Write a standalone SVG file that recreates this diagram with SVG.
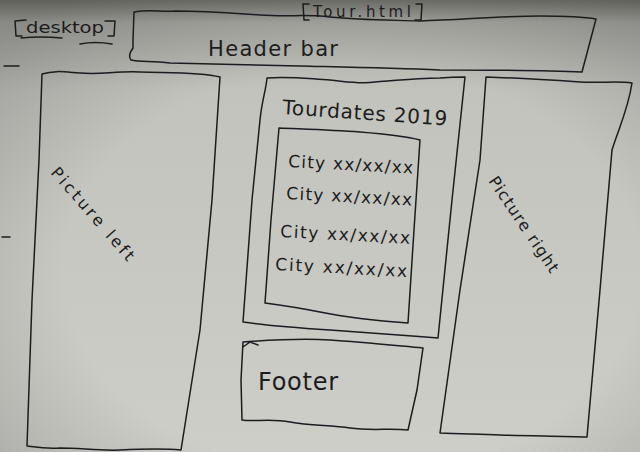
<svg xmlns="http://www.w3.org/2000/svg" width="640" height="452" viewBox="0 0 640 452">
<defs>
<linearGradient id="paper" x1="0" y1="0" x2="0" y2="1">
<stop offset="0" stop-color="#74756e"/>
<stop offset="0.05" stop-color="#a8a9a3"/>
<stop offset="0.2" stop-color="#c2c3bd"/>
<stop offset="1" stop-color="#cdcec8"/>
</linearGradient>
<radialGradient id="vig" cx="0.55" cy="0.6" r="0.75">
<stop offset="0.6" stop-color="#000" stop-opacity="0"/>
<stop offset="1" stop-color="#000" stop-opacity="0.18"/>
</radialGradient>
<style>
.ln{fill:none;stroke:#1c1c1c;stroke-width:1.5;stroke-linejoin:round;stroke-linecap:round}
.tx{font-family:"DejaVu Sans","Liberation Sans",sans-serif;fill:#1c1c1c;font-weight:normal}
</style>
</defs>
<rect width="640" height="452" fill="url(#paper)"/>
<rect width="640" height="452" fill="url(#vig)"/>
<path class="ln" d="M4,66 L19,66 M2,237 L10,237"/>

<g id="desktop">
<path class="ln" d="M15,21 L26,20 M15,21 L16,36 L22,36 M105,21 L115,21 L114,36 L108,36"/>
<text class="tx" x="26" y="33" font-size="16" textLength="78" lengthAdjust="spacingAndGlyphs">desktop</text>
<path class="ln" d="M21,38 Q40,36 62,38 M80,44 Q95,41 112,44"/>
</g>

<g id="tour-html">
<path class="ln" d="M309,4 L303,4 L304,20 L309,20 M416,4 L422,4 L421,20 L415,20"/>
<text class="tx" x="313" y="17" font-size="15" textLength="98" lengthAdjust="spacing">Tour.html</text>
</g>

<g id="header-bar">
<path class="ln" d="M134,12 C150,9 160,12 175,11 C205,11 230,13 260,15 C290,17 305,14 330,17 C360,20 390,20 420,21 C460,20 500,16 540,16 C570,16 585,17 596,19 L582,72 C540,70 490,70 440,70 C390,68 340,67 300,66 C250,65 200,64 170,63 C150,61 140,62 131,60 C128,56 130,52 133,48 L133,40 Z"/>
<text class="tx" x="208" y="56" font-size="21" textLength="130" lengthAdjust="spacing">Header bar</text>
</g>

<g id="picture-left">
<path class="ln" d="M42,74 C55,70 65,72 80,73 C100,75 115,71 140,72 C170,73 200,72 220,77 L212,200 L200,330 L181,450 C160,448 140,449 120,450 C100,451 80,448 60,448 C45,449 35,447 27,446 L32,300 L39,160 Z"/>
<text class="tx" transform="translate(50,173) rotate(49)" font-size="16" textLength="118" lengthAdjust="spacing">Picture left</text>
</g>

<g id="tourdates">
<path class="ln" d="M267,78 C290,76 310,79 330,80 C350,82 360,84 375,82 C400,80 420,78 440,78 C452,77 460,77 465,77 L452,200 L438,338 C400,335 360,332 330,330 C300,328 270,326 243,322 L252,200 L260,120 C262,100 266,90 267,78 Z"/>
<text class="tx" transform="translate(282,114) rotate(4)" font-size="20" textLength="165" lengthAdjust="spacing">Tourdates 2019</text>
<path class="ln" d="M279,128 C300,129 330,130 360,132 C385,134 405,136 420,140 L414,230 L408,323 C380,321 350,318 320,312 C300,308 280,305 265,303 L271,220 Z"/>
<text class="tx" x="288" y="167" font-size="17" textLength="125" lengthAdjust="spacing" transform="rotate(3 288 167)">City xx/xx/xx</text>
<text class="tx" x="286" y="199" font-size="17" textLength="126" lengthAdjust="spacing" transform="rotate(3 286 199)">City xx/xx/xx</text>
<text class="tx" x="280" y="237" font-size="17" textLength="130" lengthAdjust="spacing" transform="rotate(3 280 237)">City xx/xx/xx</text>
<text class="tx" x="275" y="270" font-size="17" textLength="132" lengthAdjust="spacing" transform="rotate(3 275 270)">City xx/xx/xx</text>
</g>

<g id="footer">
<path class="ln" d="M243,342 C270,340 300,338 330,340 C360,342 390,345 423,348 L417,390 L408,430 C390,428 370,431 350,428 C330,425 310,426 290,422 C270,418 255,422 242,420 L241,380 Z M243,347 L250,342 L258,345"/>
<text class="tx" x="258" y="390" font-size="24" textLength="80" lengthAdjust="spacing">Footer</text>
</g>

<g id="picture-right">
<path class="ln" d="M486,77 C520,78 550,80 580,82 C600,83 620,81 632,83 C628,110 618,130 612,150 L600,290 L587,437 C560,436 530,436 500,435 C480,434 460,434 440,433 L460,290 L480,160 Z"/>
<text class="tx" transform="translate(488,181) rotate(56)" font-size="16" textLength="112" lengthAdjust="spacing">Picture right</text>
</g>

<g id="connectors"/>
</svg>
